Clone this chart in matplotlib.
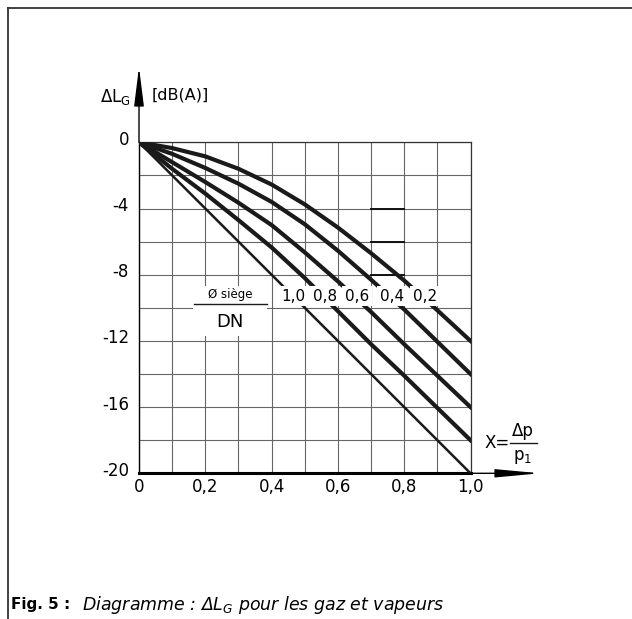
#--------------------------------------------------#
# Diagramme : delta L_G pour les gaz et vapeurs     #
#--------------------------------------------------#

import matplotlib
matplotlib.use('Agg')
import numpy as np
import matplotlib.pyplot as plt
from matplotlib.lines import Line2D
from matplotlib.patches import Rectangle

# ------------------- data ------------------- #
x_values = [0.0, 0.1, 0.2, 0.3, 0.4, 0.5, 0.6, 0.7, 0.8, 0.9, 1.0]

# delta L_G [dB(A)] for each seat / DN ratio
curve_1_0 = [0, -2.0, -4.0, -6.0, -8.0, -10.0, -12.0, -14.0, -16.0, -18.0, -20.0]
curve_0_8 = [0, -1.6, -3.1, -4.7, -6.35, -8.2, -10.2, -12.2, -14.1, -16.05, -18.0]
curve_0_6 = [0, -1.2, -2.4, -3.65, -5.0, -6.65, -8.4, -10.25, -12.2, -14.1, -16.0]
curve_0_4 = [0, -0.7, -1.55, -2.5, -3.6, -4.95, -6.55, -8.3, -10.1, -12.05, -14.0]
curve_0_2 = [0, -0.35, -0.85, -1.6, -2.55, -3.75, -5.15, -6.7, -8.35, -10.15, -12.0]

ratio_labels = ['1,0', '0,8', '0,6', '0,4', '0,2']
ratio_label_x = [0.466, 0.561, 0.657, 0.762, 0.863]
ratio_label_y = -9.3

x_ticks = [0.0, 0.2, 0.4, 0.6, 0.8, 1.0]
x_tick_labels = ['0', '0,2', '0,4', '0,6', '0,8', '1,0']
y_ticks = [0, -4, -8, -12, -16, -20]
y_tick_labels = ['0', '-4', '-8', '-12', '-16', '-20']

# ------------------- fonts ------------------- #
plt.rcParams['font.family'] = ['DejaVu Sans']
plt.rcParams['mathtext.fontset'] = 'dejavusans'

# ------------------- figure ------------------- #
fig = plt.figure(figsize=(6.32, 6.19), dpi=100)
ax = fig.add_axes([139 / 632, 1 - 473.3 / 619, 331.5 / 632, 331 / 619])
ax.set_xlim(0, 1)
ax.set_ylim(-20, 0)

# grid every 0.1 / 2 dB
ax.set_xticks(np.arange(0, 1.01, 0.1))
ax.set_yticks(np.arange(-20, 0.1, 2))
ax.set_xticklabels([])
ax.set_yticklabels([])
ax.grid(True, color='#666666', lw=0.8)
ax.tick_params(length=0)
for s in ['top', 'right']:
    ax.spines[s].set_color('#333333')
    ax.spines[s].set_linewidth(0.9)
ax.spines['left'].set_linewidth(1.0)
ax.spines['bottom'].set_linewidth(2.2)

# tick labels as plain text
for xt, lab in zip(x_ticks, x_tick_labels):
    ax.text(xt, -20.85, lab, ha='center', va='center', fontsize=12)
for yt, lab in zip(y_ticks, y_tick_labels):
    ax.text(-0.03, yt + 0.15, lab, ha='right', va='center', fontsize=12)

# short thick segments on the grid
for yy in [-4, -6, -8]:
    ax.plot([0.7, 0.8], [yy, yy], color='#111111', lw=1.4, zorder=3)

# curves
ax.plot(x_values, curve_1_0, color='#1a1a1a', lw=1.8, zorder=4)
ax.plot(x_values, curve_0_8, color='#1a1a1a', lw=3.0, zorder=4)
ax.plot(x_values, curve_0_6, color='#1a1a1a', lw=3.0, zorder=4)
ax.plot(x_values, curve_0_4, color='#1a1a1a', lw=3.0, zorder=4)
ax.plot(x_values, curve_0_2, color='#1a1a1a', lw=3.0, zorder=4)

# curve labels (white box breaks the lines)
for lx, lab in zip(ratio_label_x, ratio_labels):
    ax.text(lx, ratio_label_y, lab, ha='center', va='center', fontsize=11, zorder=6,
            bbox=dict(facecolor='white', edgecolor='none', pad=2.0))

# seat / DN fraction
ax.add_patch(Rectangle((0.163, -11.7), 0.223, 3.0, facecolor='white', edgecolor='none', zorder=5))
ax.plot([0.165, 0.385], [-9.8, -9.8], color='#1a1a1a', lw=1.0, zorder=6)
ax.text(0.275, -9.2, 'Ø siège', ha='center', va='center', fontsize=8.5, zorder=7)
ax.text(0.275, -10.85, 'DN', ha='center', va='center', fontsize=13, zorder=7)

# axis arrows
ax.annotate('', xy=(0, 4.55), xytext=(0, 0), annotation_clip=False,
            arrowprops=dict(arrowstyle='-|>,head_length=2.4,head_width=0.3', mutation_scale=10,
                            lw=1.0, color='black', shrinkA=0, shrinkB=0))
ax.annotate('', xy=(1.21, -20), xytext=(1.0, -20), annotation_clip=False,
            arrowprops=dict(arrowstyle='-|>,head_length=2.7,head_width=0.25', mutation_scale=10,
                            lw=1.0, color='black', shrinkA=0, shrinkB=0))

# axis titles
ax.text(-0.024, 2.73, r'ΔL$_{\rm G}$', ha='right', va='center', fontsize=12)
ax.text(0.039, 2.85, '[dB(A)]', ha='left', va='center', fontsize=11.5)
ax.text(1.08, -18.17, 'X=', ha='center', va='center', fontsize=12)
ax.plot([1.119, 1.2], [-18.17, -18.17], color='#1a1a1a', lw=1.0, clip_on=False)
ax.text(1.158, -17.45, 'Δp', ha='center', va='center', fontsize=12)
ax.text(1.158, -19.0, r'p$_{1}$', ha='center', va='center', fontsize=12)

# page frame (top and left edges)
fig.add_artist(Line2D([8 / 632, 1], [1 - 8 / 619, 1 - 8 / 619], color='#333333', lw=1.3))
fig.add_artist(Line2D([8 / 632, 8 / 632], [0, 1 - 8 / 619], color='#333333', lw=1.3))

# caption
fig.text(11 / 632, 1 - 605 / 619, 'Fig. 5 :', fontsize=11, fontweight='bold', va='center')
fig.text(82 / 632, 1 - 605 / 619, r'Diagramme : Δ$L_{G}$ pour les gaz et vapeurs',
         fontsize=12.5, style='italic', va='center')

fig.savefig('out.png', dpi=100)
